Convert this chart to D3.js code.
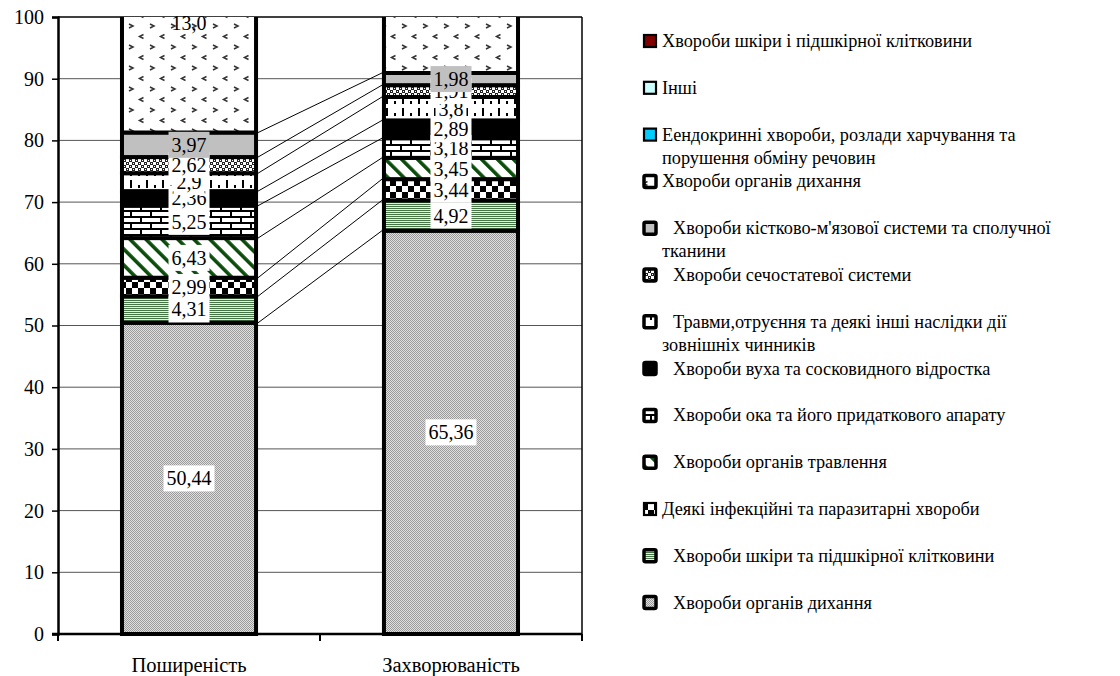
<!DOCTYPE html>
<html>
<head>
<meta charset="utf-8">
<script src="https://cdn.jsdelivr.net/npm/d3@7/dist/d3.min.js"></script>
</head>
<body style="margin:0; background:#fff">
<svg id="chart" width="1120" height="676"></svg>
<script>
// categories on x
var categories = ["Поширеність", "Захворюваність"];

// series in stack order (bottom -> top)
var seriesNames = [
    "Хвороби органів дихання",
    "Хвороби шкіри та підшкірної клітковини",
    "Деякі інфекційні та паразитарні хвороби",
    "Хвороби органів травлення",
    "Хвороби ока та його придаткового апарату",
    "Хвороби вуха та сосковидного відростка",
    "Травми,отруєння та деякі інші наслідки дії зовнішніх чинників",
    "Хвороби сечостатевої системи",
    "Хвороби кістково-м'язової системи та сполучної тканини"
];
var seriesValues = [
    [50.44, 65.36],
    [4.31, 4.92],
    [2.99, 3.44],
    [6.43, 3.45],
    [5.25, 3.18],
    [2.36, 2.89],
    [2.9, 3.8],
    [2.62, 1.91],
    [3.97, 1.98]
];
// top series runs past the axis maximum and is cut at 100
var topSeriesName = "Хвороби органів дихання";
var topSeriesLabels = ["13,0", null];

// legend, top -> bottom (reverse of stack); "|" = line break, leading space = indent
var legendNames = [
    "Хвороби шкіри і підшкірної клітковини",
    "Інші",
    "Еендокринні хвороби, розлади харчування та|порушення обміну речовин",
    "Хвороби органів дихання",
    " Хвороби кістково-м'язової системи та сполучної|тканини",
    " Хвороби сечостатевої системи",
    " Травми,отруєння та деякі інші наслідки дії|зовнішніх чинників",
    " Хвороби вуха та сосковидного відростка",
    " Хвороби ока та його придаткового апарату",
    " Хвороби органів травлення",
    "Деякі інфекційні та паразитарні хвороби",
    " Хвороби шкіри та підшкірної клітковини",
    " Хвороби органів дихання"
];

var yTicks = [0, 10, 20, 30, 40, 50, 60, 70, 80, 90, 100];

var FONT = "'Liberation Serif', 'Times New Roman', serif";
var svg = d3.select("#chart");
var plot = {left: 58, right: 582, top: 17, bottom: 634};

function txt(sel, size) {
    return sel.style("font-family", FONT).style("font-size", size + "px").style("fill", "#000");
}

var x = d3.scaleBand().domain(categories).range([plot.left, plot.right])
    .paddingInner(0.473).paddingOuter(0.2366);
var y = d3.scaleLinear().domain([0, 100]).range([plot.bottom, plot.top]);

// ---- patterns
var defs = svg.append("defs");
function pat(id, w, h) {
    return defs.append("pattern").attr("id", id).attr("patternUnits", "userSpaceOnUse")
        .attr("width", w).attr("height", h);
}
var p;
p = pat("pDither", 2, 2);
p.append("rect").attr("width", 2).attr("height", 2).attr("fill", "#e0e0e0");
p.append("rect").attr("width", 1).attr("height", 1).attr("fill", "#9a9a9a");
p.append("rect").attr("x", 1).attr("y", 1).attr("width", 1).attr("height", 1).attr("fill", "#9a9a9a");

p = pat("pGreenLines", 4, 2);
p.append("rect").attr("width", 4).attr("height", 2).attr("fill", "#e6eee6");
p.append("rect").attr("width", 4).attr("height", 1).attr("fill", "#467446");

p = pat("pChecker", 12, 12);
p.append("rect").attr("width", 12).attr("height", 12).attr("fill", "#fff");
p.append("rect").attr("x", 6).attr("width", 6).attr("height", 6).attr("fill", "#000");
p.append("rect").attr("y", 6).attr("width", 6).attr("height", 6).attr("fill", "#000");

p = pat("pDiag", 11.3, 11.3).attr("patternTransform", "rotate(-45)");
p.append("rect").attr("width", 11.3).attr("height", 11.3).attr("fill", "#fff");
p.append("rect").attr("width", 3.6).attr("height", 11.3).attr("fill", "#0b4d0b");

p = pat("pBrick", 20, 12);
p.append("rect").attr("width", 20).attr("height", 12).attr("fill", "#fff");
p.append("rect").attr("width", 20).attr("height", 2).attr("fill", "#000");
p.append("rect").attr("y", 6).attr("width", 20).attr("height", 2).attr("fill", "#000");
p.append("rect").attr("x", 0).attr("y", 0).attr("width", 2).attr("height", 6).attr("fill", "#000");
p.append("rect").attr("x", 10).attr("y", 6).attr("width", 2).attr("height", 6).attr("fill", "#000");

p = pat("pComb", 16, 12);
p.append("rect").attr("width", 16).attr("height", 12).attr("fill", "#fff");
p.append("rect").attr("x", 2).attr("y", 0).attr("width", 2).attr("height", 8).attr("fill", "#000");
p.append("rect").attr("x", 10).attr("y", 5).attr("width", 2).attr("height", 3).attr("fill", "#000");

p = pat("pSmall", 6, 6);
p.append("rect").attr("width", 6).attr("height", 6).attr("fill", "#fff");
p.append("rect").attr("width", 3).attr("height", 3).attr("fill", "#222");
p.append("rect").attr("x", 3).attr("y", 3).attr("width", 3).attr("height", 3).attr("fill", "#222");
p.append("rect").attr("x", 1).attr("y", 1).attr("width", 1).attr("height", 1).attr("fill", "#fff");
p.append("rect").attr("x", 4).attr("y", 4).attr("width", 1).attr("height", 1).attr("fill", "#fff");

p = pat("pChevron", 21, 21);
p.append("rect").attr("width", 21).attr("height", 21).attr("fill", "#fff");
p.append("path").attr("d", "M3,3 L7,5 L3,7").attr("fill", "none").attr("stroke", "#333").attr("stroke-width", 1.5);
p.append("path").attr("d", "M17.5,13.5 L13.5,15.5 L17.5,17.5").attr("fill", "none").attr("stroke", "#333").attr("stroke-width", 1.5);

// fill per stack index, label box colour
var seriesFill = ["url(#pDither)", "url(#pGreenLines)", "url(#pChecker)", "url(#pDiag)", "url(#pBrick)",
    "#000", "url(#pComb)", "url(#pSmall)", "#c0c0c0"];
var labelBg = ["#fff", "#fff", "#fff", "#fff", "#fff", "#fff", "#fff", "#fff", "#c0c0c0"];
var topFill = "url(#pChevron)";
// legend marker fills, top -> bottom
var legendFill = ["#800000", "#ccffff", "#00ccff", topFill].concat(seriesFill.slice().reverse());

// ---- grid + frame
svg.append("g").selectAll("line").data(yTicks.slice(1, -1)).enter().append("line")
    .attr("x1", plot.left).attr("x2", plot.right)
    .attr("y1", function (d) { return y(d); }).attr("y2", function (d) { return y(d); })
    .attr("stroke", "#555").attr("stroke-width", 1);
svg.append("line").attr("x1", plot.left).attr("x2", plot.right).attr("y1", y(100)).attr("y2", y(100))
    .attr("stroke", "#000").attr("stroke-width", 1.5);
svg.append("line").attr("x1", plot.right).attr("x2", plot.right).attr("y1", y(100)).attr("y2", y(0))
    .attr("stroke", "#000").attr("stroke-width", 1.5);

// ---- stack
var table = categories.map(function (c, i) {
    var row = {cat: c};
    seriesValues.forEach(function (v, k) { row["s" + k] = v[i]; });
    return row;
});
var keys = seriesValues.map(function (v, k) { return "s" + k; });
var stacked = d3.stack().keys(keys)(table);
var topStart = stacked[stacked.length - 1].map(function (d) { return d[1]; });

// series lines between the bars
var c0 = categories[0], c1 = categories[1];
svg.append("g").selectAll("line").data(stacked).enter().append("line")
    .attr("x1", x(c0) + x.bandwidth()).attr("x2", x(c1))
    .attr("y1", function (s) { return y(s[0][1]); })
    .attr("y2", function (s) { return y(s[1][1]); })
    .attr("stroke", "#000").attr("stroke-width", 1);

// segments
var gBars = svg.append("g");
stacked.forEach(function (s, k) {
    gBars.selectAll(null).data(s).enter().append("rect")
        .attr("x", function (d) { return x(d.data.cat) + 2; })
        .attr("width", x.bandwidth() - 4)
        .attr("y", function (d) { return y(d[1]); })
        .attr("height", function (d) { return y(d[0]) - y(d[1]); })
        .attr("fill", seriesFill[k]).attr("stroke", "#000").attr("stroke-width", 4);
});
// top (cut) segment
gBars.selectAll(null).data(categories).enter().append("rect")
    .attr("x", function (d) { return x(d) + 2; })
    .attr("width", x.bandwidth() - 4)
    .attr("y", y(100))
    .attr("height", function (d, i) { return y(topStart[i]) - y(100); })
    .attr("fill", topFill).attr("stroke", "none");
gBars.selectAll(null).data(categories).enter().append("path")
    .attr("d", function (d, i) {
        var x0 = x(d) + 2, x1 = x(d) + x.bandwidth() - 2;
        return "M" + x0 + "," + y(100) + "V" + y(topStart[i]) + "H" + x1 + "V" + y(100);
    })
    .attr("fill", "none").attr("stroke", "#000").attr("stroke-width", 4);

// ---- data labels (later series drawn on top)
var gLab = svg.append("g");
stacked.forEach(function (s, k) {
    s.forEach(function (d, i) {
        var cx = x(d.data.cat) + x.bandwidth() / 2;
        var cy = y((d[0] + d[1]) / 2);
        var label = String(seriesValues[k][i]).replace(".", ",");
        var g = gLab.append("g");
        var bg = g.append("rect");
        var t = txt(g.append("text"), 20).attr("x", cx).attr("y", cy).attr("dy", "0.35em")
            .attr("text-anchor", "middle").text(label);
        var w = t.node().getComputedTextLength() + 6;
        bg.attr("x", cx - w / 2).attr("y", cy - 13).attr("width", w).attr("height", 26)
            .attr("fill", labelBg[k]);
    });
});
topSeriesLabels.forEach(function (lab, i) {
    if (!lab) return;
    txt(gLab.append("text"), 20).attr("x", x(categories[i]) + x.bandwidth() / 2).attr("y", y(100) + 5.5)
        .attr("dy", "0.35em").attr("text-anchor", "middle").text(lab);
});

// ---- axes
var yAxis = svg.append("g").attr("transform", "translate(" + plot.left + ",0)")
    .call(d3.axisLeft(y).tickValues(yTicks).tickSize(6).tickPadding(8).tickFormat(d3.format("d")));
yAxis.select(".domain").attr("stroke", "#000").attr("stroke-width", 2.5);
yAxis.selectAll(".tick line").attr("stroke", "#000").attr("stroke-width", 1.5);
txt(yAxis.selectAll("text"), 20);

var xAxis = svg.append("g").attr("transform", "translate(0," + plot.bottom + ")");
xAxis.append("line").attr("x1", plot.left - 6).attr("x2", plot.right).attr("stroke", "#000").attr("stroke-width", 2.5);
var bounds = [plot.left, (x(c0) + x.bandwidth() + x(c1)) / 2, plot.right];
xAxis.selectAll(null).data(bounds).enter().append("line")
    .attr("x1", function (d) { return d; }).attr("x2", function (d) { return d; })
    .attr("y1", 0).attr("y2", 7).attr("stroke", "#000").attr("stroke-width", 2);
txt(xAxis.selectAll(null).data(categories).enter().append("text"), 20.5)
    .attr("x", function (d) { return x(d) + x.bandwidth() / 2; }).attr("y", 38)
    .attr("text-anchor", "middle").text(function (d) { return d; });

// ---- legend
var legend = svg.append("g");
legendNames.forEach(function (name, i) {
    var cy = 41 + i * 46.8;
    var thick = [0, 1, 2, 10].indexOf(i) < 0;
    legend.append("rect").attr("x", 644).attr("y", cy - 6).attr("width", 12).attr("height", 12)
        .attr("fill", legendFill[i]).attr("stroke", "#000").attr("stroke-width", thick ? 3.5 : 2.2)
        .attr("rx", thick ? 1.5 : 0);
    var indent = name.charAt(0) === " " ? 11 : 0;
    var lines = name.trim().split("|");
    lines.forEach(function (ln, j) {
        txt(legend.append("text"), 18.3).attr("x", 662 + (j === 0 ? indent : 0)).attr("y", cy + 6 + j * 23)
            .text(ln);
    });
});
</script>
</body>
</html>
